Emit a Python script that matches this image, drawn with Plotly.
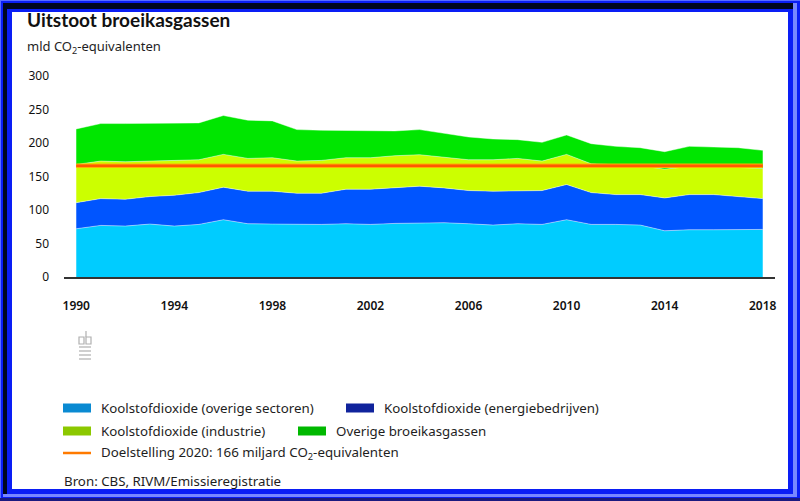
import plotly.graph_objects as go

# ---------------- data ----------------
years = list(range(1990, 2019))
overige_sectoren = [72, 77, 76, 79, 76, 78.5, 85.5, 79.5, 79, 78.5, 78.5, 79.5, 78.5, 80, 81,
                    81, 79.5, 77.5, 79.5, 78.5, 85.5, 78.5, 78.5, 77.5, 69, 70.5, 70.5, 70.5, 71]
energiebedrijven = [39, 40, 40, 41, 46, 47.5, 48.5, 48.5, 49, 46.5, 46.5, 51.5, 52.5, 53, 54.5,
                    52, 49.5, 50.5, 49.5, 50.5, 52.5, 47.5, 44.5, 45.5, 49, 52.5, 52.5, 49.5, 46]
industrie = [57, 56, 56, 53, 52, 49, 49, 49, 50, 48, 49, 47, 47, 48, 47,
             46, 46, 47, 48, 44, 45, 43, 44, 43, 43, 42, 42, 44, 45]
overige_gassen = [53, 56, 57, 56, 56, 55, 58, 57, 55, 47, 45, 41, 40, 37, 37.5,
                  36, 34, 31, 28, 28, 29, 30, 28, 27, 26, 30, 29, 29, 27]
doel_2020 = 166
x_ticks = [1990, 1994, 1998, 2002, 2006, 2010, 2014, 2018]
y_ticks = [0, 50, 100, 150, 200, 250, 300]

series_names = ["Koolstofdioxide (overige sectoren)", "Koolstofdioxide (energiebedrijven)",
                "Koolstofdioxide (industrie)", "Overige broeikasgassen"]
area_colors = ["#00CCFF", "#0055FF", "#CCFF00", "#00E600"]
legend_colors = ["#0A8AD2", "#10239C", "#8CC800", "#00B800"]
target_label = "Doelstelling 2020: 166 miljard CO<sub>2</sub>-equivalenten"

# ---------------- geometry ----------------
W, H = 800, 501
ML, MR, MT, MB = 64, 25, 76, 224
PW, PH = W - ML - MR, H - MT - MB


def px(x):
    return (x - ML) / PW


def py(y):
    return 1 - (y - MT) / PH


FONT = "Noto Sans"
TFONT = "Lato"
TXT = "#1e1e1e"

fig = go.Figure()
for vals, name, col in zip([overige_sectoren, energiebedrijven, industrie, overige_gassen],
                           series_names, area_colors):
    fig.add_trace(go.Scatter(x=years, y=vals, name=name, stackgroup="one", mode="lines",
                             line=dict(width=0.8, color="rgba(255,255,255,0.55)"),
                             fillcolor=col, showlegend=False, hoverinfo="skip"))

fig.add_trace(go.Scatter(x=years, y=[doel_2020] * len(years), mode="lines",
                         line=dict(color="#FFB000", width=4.5), showlegend=False, hoverinfo="skip"))
fig.add_trace(go.Scatter(x=years, y=[doel_2020] * len(years), mode="lines",
                         line=dict(color="#FF5A00", width=2.5), showlegend=False, hoverinfo="skip"))

shapes = []


def rect(x0, y0, x1, y1, color, layer="below", line=None):
    d = dict(type="rect", xref="paper", yref="paper", x0=px(x0), x1=px(x1), y0=py(y1), y1=py(y0),
             fillcolor=color, layer=layer, line=dict(width=0))
    if line:
        d["line"] = line
        d["fillcolor"] = "rgba(0,0,0,0)"
    shapes.append(d)


# frame
rect(0, 0, 800, 1, "#5a6cff")
rect(0, 0, 1, 501, "#5a6cff")
rect(3, 3, 797, 9, "#00061f")
rect(3, 3, 7, 497, "#00061f")
rect(793, 3, 797, 497, "#7888ff")
rect(3, 494, 797, 497, "#7888ff")
rect(0, 498, 800, 501, "#1a1a80")
rect(12, 12, 788, 489, "#ffffff")

# logo
g = dict(color="#b0b0b0", width=1.2)
rect(79, 337, 84, 344, None, line=g)
rect(86, 337, 91, 344, None, line=g)
for yy in [347, 351, 355, 359]:
    shapes.append(dict(type="line", xref="paper", yref="paper", x0=px(79), x1=px(91),
                       y0=py(yy), y1=py(yy), line=g))
shapes.append(dict(type="line", xref="paper", yref="paper", x0=px(86), x1=px(86),
                   y0=py(331), y1=py(337), line=g))

annotations = []


def text(x, y, s, size=12, bold=False, color=TXT, family=FONT):
    annotations.append(dict(xref="paper", yref="paper", x=px(x), y=py(y), text=s,
                            showarrow=False, xanchor="left", yanchor="middle",
                            font=dict(family=family, size=size, color=color,
                                      weight="bold" if bold else "normal")))


text(25, 19, "Uitstoot broeikasgassen", size=19, bold=True, color="#111", family=TFONT)
text(25, 47, "mld CO<sub>2</sub>-equivalenten", size=13)

# legend (manual)
leg = [(63, 408, 0), (346, 408, 1), (63, 431, 2), (298, 431, 3)]
for x0, yc, i in leg:
    rect(x0, yc - 4.5, x0 + 28, yc + 4.5, legend_colors[i], layer="above")
    text(x0 + 36, yc, series_names[i], size=13.3)
shapes.append(dict(type="line", xref="paper", yref="paper", x0=px(63), x1=px(91),
                   y0=py(453), y1=py(453), line=dict(color="#FF7A00", width=2.5)))
text(99, 453, target_label, size=13.3)
text(62, 481, "Bron: CBS, RIVM/Emissieregistratie", size=13.3)

fig.update_layout(
    width=W, height=H,
    margin=dict(l=ML, r=MR, t=MT, b=MB),
    paper_bgcolor="#0A1EF5", plot_bgcolor="rgba(0,0,0,0)",
    shapes=shapes, annotations=annotations,
    font=dict(family=FONT, color=TXT, size=12),
    xaxis=dict(range=[1989.5, 2018.5], tickvals=x_ticks, showgrid=False, zeroline=False,
               showline=True, linecolor="#333333", linewidth=2, ticks="",
               ticklabelstandoff=17, tickfont=dict(size=12, color="#111", weight=600)),
    yaxis=dict(range=[0, 300], tickvals=y_ticks, showgrid=False, zeroline=False,
               showline=False, ticks="", ticklabelstandoff=14,
               tickfont=dict(size=12, color="#111")),
    showlegend=False,
)

fig.write_html("out.html", config={"displayModeBar": False},
               post_script="document.body.style.margin='0';document.body.style.overflow='hidden';")
